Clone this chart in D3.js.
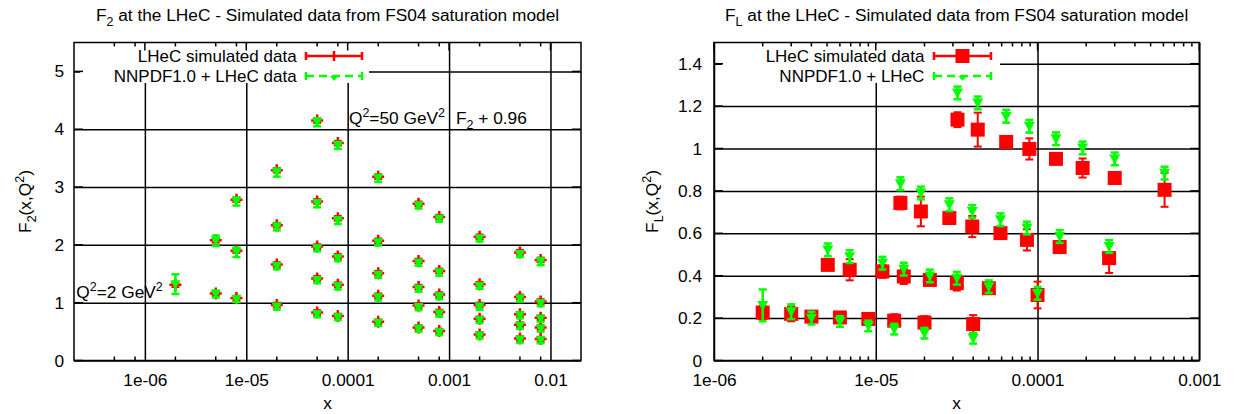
<!DOCTYPE html>
<html><head><meta charset="utf-8">
<script src="https://cdn.jsdelivr.net/npm/d3@7"></script>
<style>
body{margin:0;background:#fff}
svg{display:block}
text{font-family:"Liberation Sans",Arial,Helvetica,sans-serif;fill:#000}
</style>
</head><body>
<svg id="c" width="1236" height="414"></svg>
<script>
// ---------------- DATA ----------------
// F2 panel: x values of the columns
const f2X = [2e-6,5e-6,8e-6,2e-5,5e-5,8e-5,2e-4,5e-4,8e-4,2e-3,5e-3,8e-3];
// rows (bottom row = Q2 = 2 GeV2, top row = Q2 = 50 GeV2 shifted), each starts at column index given
const f2RowStart = [0,1,2,3,4];
const f2Red1 = [1.31,1.16,1.08,0.96,0.83,0.77,0.67,0.57,0.51,0.45,0.38,0.37];
const f2Red2 = [2.08,1.90,1.66,1.42,1.31,1.12,0.95,0.84,0.72,0.62,0.57];
const f2Red3 = [2.78,2.34,1.97,1.80,1.51,1.27,1.14,0.96,0.80,0.74];
const f2Red4 = [3.29,2.75,2.46,2.07,1.72,1.55,1.32,1.10,1.02];
const f2Red5 = [4.15,3.76,3.18,2.71,2.48,2.14,1.87,1.74];
const f2Green1 = [1.32,1.15,1.06,0.93,0.80,0.75,0.65,0.55,0.49,0.43,0.36,0.35];
const f2Green2 = [2.07,1.87,1.63,1.39,1.28,1.09,0.92,0.81,0.70,0.60,0.55];
const f2Green3 = [2.75,2.31,1.94,1.77,1.48,1.24,1.11,0.93,0.78,0.72];
const f2Green4 = [3.25,2.71,2.42,2.04,1.69,1.52,1.29,1.07,0.99];
const f2Green5 = [4.12,3.72,3.15,2.68,2.45,2.11,1.84,1.71];
const f2GreenErr1 = [0.17,0.06,0.05,0.05,0.05,0.05,0.05,0.05,0.05,0.05,0.05,0.05];
const f2GreenErr2 = [0.09,0.08,0.05,0.05,0.05,0.05,0.05,0.05,0.05,0.05,0.05];
const f2GreenErr3 = [0.07,0.06,0.05,0.05,0.05,0.05,0.05,0.05,0.05,0.05];
const f2GreenErr4 = [0.07,0.06,0.06,0.05,0.05,0.05,0.05,0.05,0.05];
const f2GreenErr5 = [0.07,0.06,0.06,0.05,0.05,0.05,0.05,0.06];
const f2RedErr = 0.04;

// FL panel
const flX1 = [2e-6,3e-6,4e-6,6e-6,9e-6,1.3e-5,2e-5,4e-5];
const flRed1 = [0.226,0.22,0.207,0.203,0.196,0.188,0.179,0.172];
const flRedErr1 = [0.03,0.035,0.02,0.02,0.02,0.03,0.03,0.042];
const flGreen1 = [0.26,0.23,0.20,0.184,0.163,0.148,0.129,0.105];
const flGreenErr1 = [0.075,0.035,0.03,0.025,0.025,0.025,0.025,0.025];

const flX2 = [5.05e-6,6.9e-6,1.1e-5,1.49e-5,2.16e-5,3.17e-5,5e-5,1e-4];
const flRed2 = [0.451,0.428,0.42,0.396,0.38,0.365,0.341,0.309];
const flRedErr2 = [0.02,0.05,0.03,0.035,0.02,0.035,0.02,0.063];
const flGreen2 = [0.522,0.49,0.459,0.431,0.399,0.388,0.348,0.317];
const flGreenErr2 = [0.03,0.03,0.03,0.03,0.03,0.03,0.03,0.03];

const flX3 = [1.42e-5,1.9e-5,2.85e-5,3.95e-5,5.9e-5,8.6e-5,1.37e-4,2.77e-4];
const flRed3 = [0.743,0.703,0.672,0.632,0.601,0.569,0.535,0.483];
const flRedErr3 = [0.03,0.07,0.02,0.05,0.02,0.05,0.02,0.07];
const flGreen3 = [0.834,0.79,0.735,0.703,0.664,0.625,0.585,0.538];
const flGreenErr3 = [0.03,0.03,0.03,0.03,0.03,0.03,0.03,0.03];

const flX4 = [3.2e-5,4.27e-5,6.4e-5,8.9e-5,1.3e-4,1.9e-4,3.0e-4,6.1e-4];
const flRed4 = [1.136,1.089,1.031,0.998,0.951,0.908,0.861,0.805];
const flRedErr4 = [0.035,0.08,0.02,0.05,0.02,0.045,0.02,0.08];
const flGreen4 = [1.262,1.215,1.152,1.105,1.046,1.0025,0.951,0.884];
const flGreenErr4 = [0.03,0.03,0.03,0.03,0.03,0.03,0.03,0.03];

// Axes / ticks
const f2XTicks = [1e-6,1e-5,1e-4,1e-3,1e-2];
const f2XTickLabels = ["1e-06","1e-05","0.0001","0.001","0.01"];
const f2XMinor = [5e-7,8e-7,2e-6,5e-6,8e-6,2e-5,5e-5,8e-5,2e-4,5e-4,8e-4,2e-3,5e-3,8e-3];
const f2YTicks = [0,1,2,3,4,5];
const f2YTickLabels = ["0","1","2","3","4","5"];
const flXTicks = [1e-6,1e-5,1e-4,1e-3];
const flXTickLabels = ["1e-06","1e-05","0.0001","0.001"];
const flYTicks = [0,0.2,0.4,0.6,0.8,1,1.2,1.4];
const flYTickLabels = ["0","0.2","0.4","0.6","0.8","1","1.2","1.4"];
const legendLabelsF2 = ["LHeC simulated data","NNPDF1.0 + LHeC data"];
const legendLabelsFL = ["LHeC simulated data","NNPDF1.0 + LHeC"];

// ---------------- DRAWING ----------------
const RED = "#ff0000", GREEN = "#00ff00";
const TOP = 42.5, BOTTOM = 360.5;
const FS = 17.3;
const LFS = 17;
const svg = d3.select("#c");

function lbl(sel, parts) {
  let shift = 0;
  parts.forEach(([t, m]) => {
    const target = m === 1 ? 5 : m === 2 ? -7 : 0;
    const ts = sel.append("tspan").text(t).attr("dy", target - shift);
    if (m) ts.attr("font-size", FS * 0.72);
    shift = target;
  });
}

function panel(cfg) {
  const g = svg.append("g");
  const x = d3.scaleLog().domain(cfg.xDomain).range([cfg.left, cfg.right]);
  const y = d3.scaleLinear().domain(cfg.yDomain).range([BOTTOM, TOP]);
  const H = BOTTOM - TOP, W = cfg.right - cfg.left;

  // grid
  const grid = g.append("g");
  grid.append("g").attr("transform", `translate(0,${BOTTOM})`)
    .call(d3.axisBottom(x).tickValues(cfg.xTicks).tickSize(-H).tickFormat(""))
    .call(a => a.select(".domain").remove())
    .selectAll("line").attr("stroke", "#000").attr("stroke-width", 1.5);
  grid.append("g").attr("transform", `translate(${cfg.left},0)`)
    .call(d3.axisLeft(y).tickValues(cfg.yTicks).tickSize(-W).tickFormat(""))
    .call(a => a.select(".domain").remove())
    .selectAll("line").attr("stroke", "#000").attr("stroke-width", 1.5);

  // tick labels
  g.append("g").attr("transform", `translate(0,${BOTTOM})`)
    .call(d3.axisBottom(x).tickValues(cfg.xTicks).tickSize(0).tickPadding(0)
      .tickFormat((d, i) => cfg.xLabels[i]))
    .call(a => { a.select(".domain").remove(); })
    .selectAll("text").attr("font-size", FS).attr("font-family", null)
    .attr("fill", "#000").attr("dy", null).attr("y", 25);
  g.append("g").attr("transform", `translate(${cfg.left},0)`)
    .call(d3.axisLeft(y).tickValues(cfg.yTicks).tickSize(0).tickPadding(cfg.yPad)
      .tickFormat((d, i) => cfg.yLabels[i]))
    .call(a => { a.select(".domain").remove(); })
    .selectAll("text").attr("font-size", FS).attr("font-family", null)
    .attr("fill", "#000");

  // data
  const dg = g.append("g");
  cfg.series.forEach(s => {
    s.xs.forEach((xv, i) => {
      const cx = x(xv);
      const rv = s.red[i], re = s.redErr[i];
      dg.append("line").attr("x1", cx).attr("x2", cx).attr("y1", y(rv - re)).attr("y2", y(rv + re))
        .attr("stroke", RED).attr("stroke-width", 2);
      [rv - re, rv + re].forEach(v => dg.append("line").attr("x1", cx - 4).attr("x2", cx + 4)
        .attr("y1", y(v)).attr("y2", y(v)).attr("stroke", RED).attr("stroke-width", 2));
      if (cfg.redSquare) {
        dg.append("rect").attr("x", cx - 7).attr("y", y(rv) - 7).attr("width", 14).attr("height", 14).attr("fill", RED);
      } else {
        dg.append("path").attr("d", `M${cx - 6},${y(rv)}H${cx + 6}M${cx},${y(rv) - 6}V${y(rv) + 6}`)
          .attr("stroke", RED).attr("stroke-width", 2.5);
      }
    });
  });
  cfg.series.forEach(s => {
    s.xs.forEach((xv, i) => {
      const cx = x(xv);
      const gv = s.green[i], ge = s.greenErr[i];
      dg.append("line").attr("x1", cx).attr("x2", cx).attr("y1", y(gv - ge)).attr("y2", y(gv + ge))
        .attr("stroke", GREEN).attr("stroke-width", 2.5);
      [gv - ge, gv + ge].forEach(v => dg.append("line").attr("x1", cx - 4).attr("x2", cx + 4)
        .attr("y1", y(v)).attr("y2", y(v)).attr("stroke", GREEN).attr("stroke-width", 2.5));
      const cy = y(gv), r = cfg.triR;
      dg.append("path").attr("d", `M${cx - r},${cy - r * 0.8}L${cx + r},${cy - r * 0.8}L${cx},${cy + r}Z`)
        .attr("fill", GREEN);
    });
  });

  // key box
  g.append("rect").attr("x", cfg.keyX0).attr("y", TOP + 1).attr("width", cfg.keyX1 - cfg.keyX0)
    .attr("height", 83 - TOP - 1).attr("fill", "#fff");
  const rows = [56, 76];
  const s0 = cfg.sampleX0, s1 = cfg.sampleX1, sm = (s0 + s1) / 2;
  cfg.legend.forEach((t, i) => {
    g.append("text").attr("x", cfg.textEnd).attr("y", rows[i]).attr("dy", "0.36em")
      .attr("text-anchor", "end").attr("font-size", LFS).text(t);
    const col = i === 0 ? RED : GREEN;
    g.append("line").attr("x1", s0).attr("x2", s1).attr("y1", rows[i]).attr("y2", rows[i])
      .attr("stroke", col).attr("stroke-width", 2.5).attr("stroke-dasharray", i === 0 ? null : "8,5");
    [s0, s1].forEach(sx => g.append("line").attr("x1", sx).attr("x2", sx)
      .attr("y1", rows[i] - 4).attr("y2", rows[i] + 4).attr("stroke", col).attr("stroke-width", 2.5));
    if (i === 0) {
      if (cfg.redSquare) g.append("rect").attr("x", sm - 7).attr("y", rows[i] - 7).attr("width", 14).attr("height", 14).attr("fill", RED);
      else g.append("path").attr("d", `M${sm},${rows[i] - 5}V${rows[i] + 5}`).attr("stroke", RED).attr("stroke-width", 2.5);
    } else {
      g.append("path").attr("d", `M${sm - 4},${rows[i]}L${sm + 4},${rows[i]}L${sm},${rows[i] + 5}Z`).attr("fill", GREEN);
    }
  });

  // ticks on borders (mirror)
  const tk = g.append("g").attr("stroke", "#000").attr("stroke-width", 1.5);
  cfg.xTicks.forEach(v => {
    tk.append("line").attr("x1", x(v)).attr("x2", x(v)).attr("y1", TOP).attr("y2", TOP + 8);
  });
  cfg.xMinor.forEach(v => {
    tk.append("line").attr("x1", x(v)).attr("x2", x(v)).attr("y1", TOP).attr("y2", TOP + 4);
    tk.append("line").attr("x1", x(v)).attr("x2", x(v)).attr("y1", BOTTOM).attr("y2", BOTTOM - 4);
  });
  cfg.yTicks.forEach(v => {
    tk.append("line").attr("x1", cfg.left).attr("x2", cfg.left + 9).attr("y1", y(v)).attr("y2", y(v));
    tk.append("line").attr("x1", cfg.right).attr("x2", cfg.right - 9).attr("y1", y(v)).attr("y2", y(v));
  });

  // border
  g.append("rect").attr("x", cfg.left).attr("y", TOP).attr("width", W).attr("height", H)
    .attr("fill", "none").attr("stroke", "#000").attr("stroke-width", 1.5);

  // title
  const cxm = (cfg.left + cfg.right) / 2;
  lbl(g.append("text").attr("x", cxm).attr("y", 21).attr("text-anchor", "middle").attr("font-size", FS), cfg.title);
  // x label
  g.append("text").attr("x", cxm).attr("y", 409).attr("text-anchor", "middle").attr("font-size", FS).text("x");
  // y label
  lbl(g.append("text").attr("transform", `translate(${cfg.yLabelX},${(TOP + BOTTOM) / 2}) rotate(-90)`)
    .attr("text-anchor", "middle").attr("font-size", FS), cfg.yTitle);

  // annotations
  (cfg.notes || []).forEach(n => {
    lbl(g.append("text").attr("x", x(n.x)).attr("y", y(n.y)).attr("font-size", FS), n.parts);
  });
  return { x, y };
}

function rowsF2(reds, greens, gerrs) {
  return reds.map((r, k) => ({
    xs: f2X.slice(f2RowStart[k], f2RowStart[k] + r.length),
    red: r, redErr: r.map(() => f2RedErr), green: greens[k], greenErr: gerrs[k]
  }));
}

panel({
  left: 74, right: 581, xDomain: [2e-7, 0.02], yDomain: [0, 5.5],
  xTicks: f2XTicks, xLabels: f2XTickLabels, xMinor: f2XMinor,
  yTicks: f2YTicks, yLabels: f2YTickLabels, yPad: 10,
  series: rowsF2([f2Red1, f2Red2, f2Red3, f2Red4, f2Red5],
                 [f2Green1, f2Green2, f2Green3, f2Green4, f2Green5],
                 [f2GreenErr1, f2GreenErr2, f2GreenErr3, f2GreenErr4, f2GreenErr5]),
  redSquare: false, triR: 5,
  keyX0: 80, keyX1: 369, textEnd: 296.6, sampleX0: 306, sampleX1: 362,
  legend: legendLabelsF2,
  title: [["F", 0], ["2", 1], [" at the LHeC - Simulated data from FS04 saturation model", 0]],
  yTitle: [["F", 0], ["2", 1], ["(x,Q", 0], ["2", 2], [")", 0]],
  yLabelX: 31,
  notes: [
    { x: 2.11e-7, y: 1.08, parts: [["Q", 0], ["2", 2], ["=2 GeV", 0], ["2", 2]] },
    { x: 1.03e-4, y: 4.09, parts: [["Q", 0], ["2", 2], ["=50 GeV", 0], ["2", 2]] },
    { x: 1.17e-3, y: 4.09, parts: [["F", 0], ["2", 1], [" + 0.96", 0]] }
  ]
});

// FL panel x minor ticks (2..9 per decade)
const flXMinor = [];
[1e-6, 1e-5, 1e-4].forEach(d => { for (let k = 2; k <= 9; k++) flXMinor.push(d * k); });

panel({
  left: 714, right: 1199.3, xDomain: [1e-6, 1e-3], yDomain: [0, 1.5],
  xTicks: flXTicks, xLabels: flXTickLabels, xMinor: flXMinor,
  yTicks: flYTicks, yLabels: flYTickLabels, yPad: 12,
  series: [
    { xs: flX1, red: flRed1, redErr: flRedErr1, green: flGreen1, greenErr: flGreenErr1 },
    { xs: flX2, red: flRed2, redErr: flRedErr2, green: flGreen2, greenErr: flGreenErr2 },
    { xs: flX3, red: flRed3, redErr: flRedErr3, green: flGreen3, greenErr: flGreenErr3 },
    { xs: flX4, red: flRed4, redErr: flRedErr4, green: flGreen4, greenErr: flGreenErr4 }
  ],
  redSquare: true, triR: 5.5,
  keyX0: 722, keyX1: 1000, textEnd: 924.4, sampleX0: 934, sampleX1: 991,
  legend: legendLabelsFL,
  title: [["F", 0], ["L", 1], [" at the LHeC - Simulated data from FS04 saturation model", 0]],
  yTitle: [["F", 0], ["L", 1], ["(x,Q", 0], ["2", 2], [")", 0]],
  yLabelX: 658
});
</script>
</body></html>
